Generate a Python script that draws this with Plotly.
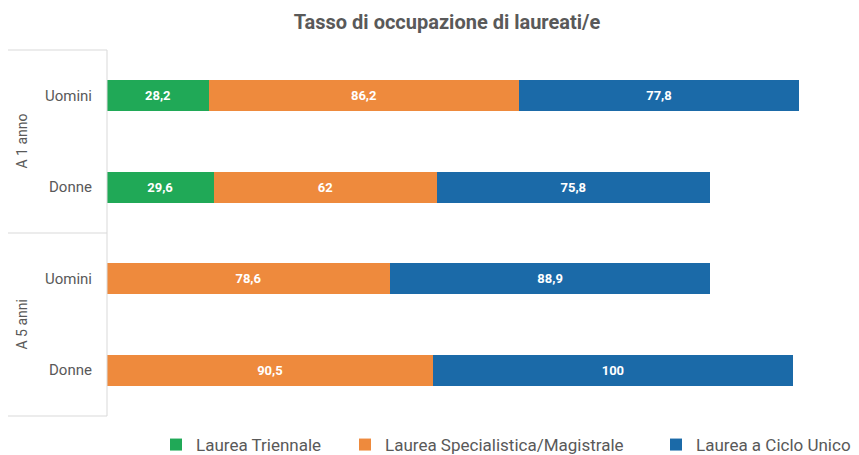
import plotly.graph_objects as go

groups = ["A 1 anno", "A 1 anno", "A 5 anni", "A 5 anni"]
genders = ["Uomini", "Donne", "Uomini", "Donne"]
series_names = ["Laurea Triennale", "Laurea Specialistica/Magistrale", "Laurea a Ciclo Unico"]
triennale = [28.2, 29.6, None, None]
specialistica = [86.2, 62, 78.6, 90.5]
ciclo_unico = [77.8, 75.8, 88.9, 100]
colors = ["#20a957", "#ee8a3d", "#1b6aa8"]
title = "Tasso di occupazione di laureati/e"

W, H = 859, 455
ycats = [f"{g}|{s}" for g, s in zip(groups, genders)]

def fmt(v):
    return "" if v is None else (f"{v:g}".replace(".", ","))

legend_ids = ["legend", "legend2", "legend3"]
legend_x = [156, 345, 656]

fig = go.Figure()
for name, vals, col, lid in zip(series_names, [triennale, specialistica, ciclo_unico], colors, legend_ids):
    fig.add_trace(go.Bar(
        y=ycats, x=vals, name=name, orientation="h",
        marker=dict(color=col, line=dict(width=0)),
        text=[fmt(v) for v in vals], textposition="inside", insidetextanchor="middle",
        texttemplate="<b>%{text}</b>",
        textfont=dict(color="white", size=13, family="Roboto"),
        width=0.34, legend=lid,
    ))

L, R, T, B = 107, 29, 50, 39
PW = W - L - R
leg_common = dict(orientation="h", xref="container", yref="container", xanchor="left",
                  y=1 - 445 / H, yanchor="middle", borderwidth=0, bgcolor="rgba(0,0,0,0)",
                  font=dict(size=17, color="#595959", family="Roboto"), itemwidth=30)
fig.update_layout(
    width=W, height=H,
    barmode="stack",
    margin=dict(l=L, r=R, t=T, b=B),
    plot_bgcolor="white", paper_bgcolor="white",
    font=dict(family="Roboto", color="#595959"),
    title=dict(text="<b>" + title + "</b>", x=447 / W, xanchor="center", xref="container",
               y=1 - 22 / H, yanchor="middle", yref="container",
               font=dict(size=20, color="#595959", family="Roboto")),
    showlegend=True,
    legend=dict(x=legend_x[0] / W, **leg_common),
    legend2=dict(x=legend_x[1] / W, **leg_common),
    legend3=dict(x=legend_x[2] / W, **leg_common),
    xaxis=dict(range=[0, 200.8], visible=False, fixedrange=True),
    yaxis=dict(categoryorder="array", categoryarray=ycats[::-1], range=[-0.5, 3.5],
               showticklabels=False, showgrid=False, zeroline=False, showline=False),
    uniformtext=dict(minsize=8, mode="show"),
)

line_col = "#d9d9d9"
fig.add_shape(type="line", xref="paper", yref="paper", x0=0, x1=0, y0=0, y1=1,
              line=dict(color=line_col, width=1))
for yv in [0, 0.5, 1]:
    fig.add_shape(type="line", xref="paper", yref="paper",
                  x0=-(L - 8) / PW, x1=0, y0=yv, y1=yv,
                  line=dict(color=line_col, width=1))

for i, (g, s) in enumerate(zip(groups, genders)):
    fig.add_annotation(x=0, xref="paper", xshift=-13, y=ycats[i], yref="y", text=s,
                       showarrow=False, xanchor="right", font=dict(size=15, color="#595959"))
for g in ["A 1 anno", "A 5 anni"]:
    idx = [i for i, gg in enumerate(groups) if gg == g]
    ypos = 1 - (sum(idx) / len(idx) + 0.5) / len(groups)
    fig.add_annotation(x=(21 - L) / PW, xref="paper", y=ypos, yref="paper", text=g,
                       xanchor="center", yanchor="middle",
                       textangle=-90, showarrow=False, font=dict(size=14, color="#595959"))

fig.write_html("out.html", post_script="document.body.style.margin='0';",
               config={"displayModeBar": False})
